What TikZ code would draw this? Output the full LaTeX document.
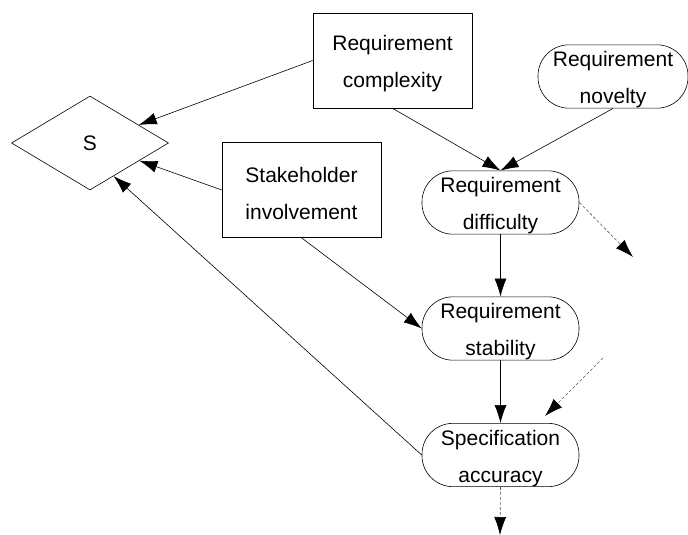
\documentclass[tikz,border=0pt]{standalone}
\usepackage{fontspec}
\setmainfont{Liberation Sans}
\usepackage{tikz}
\usetikzlibrary{shapes.geometric,arrows.meta,calc}

\newcommand{\twolines}[2]{\rule{0pt}{22pt}#1\\#2}

\begin{document}
\begin{tikzpicture}[x=1pt,y=-1pt,line width=0.6pt,
  every node/.style={font=\fontsize{21}{37}\selectfont, align=center, inner sep=0pt},
  fbox/.style={draw, rectangle, minimum width=159pt, minimum height=95pt},
  pill/.style={draw, rectangle, rounded corners=31pt, minimum width=157pt, minimum height=63pt},
  arr/.style={-{Latex[length=18pt,width=12pt]}},
  darr/.style={-{Latex[length=18pt,width=12pt,color=black]}, gray!70!black, dash pattern=on 3pt off 2pt}]
\useasboundingbox (0,0) rectangle (688,535);
\node[draw, diamond, minimum width=157pt, minimum height=94pt] (S) at (90,143) {S};
\node[fbox] (Cplx) at (392.5,60.5) {\twolines{Requirement}{complexity}};
\node[fbox] (Stake) at (301.5,190) {\twolines{Stakeholder}{involvement}};
\node[pill, minimum width=150pt] (Novel) at (613,76.5) {\twolines{Requirement}{novelty}};
\node[pill] (Diff) at (500.5,202.5) {\twolines{Requirement}{difficulty}};
\node[pill] (Stab) at (500.5,328.5) {\twolines{Requirement}{stability}};
\node[pill] (Acc) at (500.5,455) {\twolines{Specification}{accuracy}};
\coordinate (DiffOut) at (633,257);
\coordinate (AccInA) at (603,358);
\coordinate (AccInB) at (545,416);
\coordinate (AccOut) at (500,535);
\draw[arr] (Cplx.west) -- (S);
\draw[arr] (Stake.west) -- (S);
\draw[arr] (Acc.west) -- ($(S.south)!0.3!(S.east)$);
\draw[arr] (Cplx.south) -- (Diff.north);
\draw[arr] (Novel.south) -- (Diff.north);
\draw[arr] (Stake.south) -- (Stab.west);
\draw[arr] (Diff) -- (Stab);
\draw[arr] (Stab) -- (Acc);
\draw[darr] (Diff.east) -- (DiffOut);
\draw[darr] (AccInA) -- (AccInB);
\draw[darr] (Acc.south) -- (AccOut);
\end{tikzpicture}
\end{document}
